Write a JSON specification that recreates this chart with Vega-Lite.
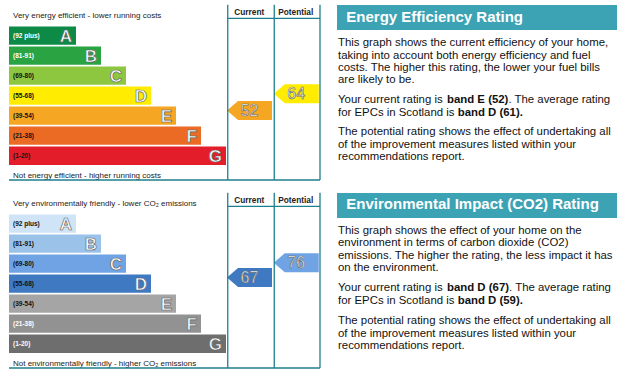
{
  "$schema": "https://vega.github.io/schema/vega-lite/v6.json",
  "padding": {"left": 8, "top": 4, "right": 0, "bottom": 0},
  "background": "white",
  "spacing": 11,
  "config": {"view": {"stroke": null}, "font": "Liberation Sans", "text": {"font": "Liberation Sans"}},
  "resolve": {"scale": {"x": "independent", "y": "independent", "color": "independent", "fill": "independent"}},
  "datasets": {
    "bands": [
      {"chart": "energy", "band": "A", "range": "(92 plus)", "min": 92, "max": 100, "rank": 1},
      {"chart": "energy", "band": "B", "range": "(81-91)", "min": 81, "max": 91, "rank": 2},
      {"chart": "energy", "band": "C", "range": "(69-80)", "min": 69, "max": 80, "rank": 3},
      {"chart": "energy", "band": "D", "range": "(55-68)", "min": 55, "max": 68, "rank": 4},
      {"chart": "energy", "band": "E", "range": "(39-54)", "min": 39, "max": 54, "rank": 5},
      {"chart": "energy", "band": "F", "range": "(21-38)", "min": 21, "max": 38, "rank": 6},
      {"chart": "energy", "band": "G", "range": "(1-20)", "min": 1, "max": 20, "rank": 7},
      {"chart": "env", "band": "A", "range": "(92 plus)", "min": 92, "max": 100, "rank": 1},
      {"chart": "env", "band": "B", "range": "(81-91)", "min": 81, "max": 91, "rank": 2},
      {"chart": "env", "band": "C", "range": "(69-80)", "min": 69, "max": 80, "rank": 3},
      {"chart": "env", "band": "D", "range": "(55-68)", "min": 55, "max": 68, "rank": 4},
      {"chart": "env", "band": "E", "range": "(39-54)", "min": 39, "max": 54, "rank": 5},
      {"chart": "env", "band": "F", "range": "(21-38)", "min": 21, "max": 38, "rank": 6},
      {"chart": "env", "band": "G", "range": "(1-20)", "min": 1, "max": 20, "rank": 7}
    ],
    "ratings": [
      {"chart": "energy", "kind": "Current", "value": 52, "band": "E"},
      {"chart": "energy", "kind": "Potential", "value": 64, "band": "D"},
      {"chart": "env", "kind": "Current", "value": 67, "band": "D"},
      {"chart": "env", "kind": "Potential", "value": 76, "band": "C"}
    ],
    "captions": [
      {"chart": "energy", "part": "top", "text": "Very energy efficient - lower running costs"},
      {"chart": "energy", "part": "bottom", "text": "Not energy efficient - higher running costs"},
      {"chart": "energy", "part": "Current", "text": "Current"},
      {"chart": "energy", "part": "Potential", "text": "Potential"},
      {"chart": "env", "part": "top", "text": "Very environmentally friendly - lower CO₂ emissions"},
      {"chart": "env", "part": "bottom", "text": "Not environmentally friendly - higher CO₂ emissions"},
      {"chart": "env", "part": "Current", "text": "Current"},
      {"chart": "env", "part": "Potential", "text": "Potential"}
    ],
    "texts": [
      {"panel": "energy", "part": "title", "text": "Energy Efficiency Rating"},
      {"panel": "energy", "part": "p1", "text": "This graph shows the current efficiency of your home,\ntaking into account both energy efficiency and fuel\ncosts. The higher this rating, the lower your fuel bills\nare likely to be."},
      {"panel": "energy", "part": "p2a", "text": "Your current rating is"},
      {"panel": "energy", "part": "p2b", "text": "band E (52)"},
      {"panel": "energy", "part": "p2c", "text": ". The average rating"},
      {"panel": "energy", "part": "p2d", "text": "for EPCs in Scotland is"},
      {"panel": "energy", "part": "p2e", "text": "band D (61)."},
      {"panel": "energy", "part": "p3", "text": "The potential rating shows the effect of undertaking all\nof the improvement measures listed within your\nrecommendations report."},
      {"panel": "env", "part": "title", "text": "Environmental Impact (CO2) Rating"},
      {"panel": "env", "part": "p1", "text": "This graph shows the effect of your home on the\nenvironment in terms of carbon dioxide (CO2)\nemissions. The higher the rating, the less impact it has\non the environment."},
      {"panel": "env", "part": "p2a", "text": "Your current rating is"},
      {"panel": "env", "part": "p2b", "text": "band D (67)"},
      {"panel": "env", "part": "p2c", "text": ". The average rating"},
      {"panel": "env", "part": "p2d", "text": "for EPCs in Scotland is"},
      {"panel": "env", "part": "p2e", "text": "band D (59)."},
      {"panel": "env", "part": "p3", "text": "The potential rating shows the effect of undertaking all\nof the improvement measures listed within your\nrecommendations report."}
    ]
  },
  "vconcat": [
    {
      "spacing": 16,
      "resolve": {"scale": {"x": "independent", "y": "independent", "color": "independent", "fill": "independent"}},
      "hconcat": [
        {
          "width": 312, "height": 176,
          "layer": [
            {
              "data": {"name": "bands"},
              "transform": [{"filter": "datum.chart === 'energy'"}],
              "mark": {"type": "rect"},
              "encoding": {
                "x": {"field": "rank", "type": "quantitative", "scale": {"domain": [-1.68, 10.8], "nice": false, "zero": false}, "axis": null},
                "x2": {"datum": -1.68},
                "y": {"field": "max", "type": "quantitative", "scale": {"domain": [-10, 1, 20, 21, 38, 39, 54, 55, 68, 69, 80, 81, 91, 92, 100, 110], "range": [176, 161, 142.6, 140.8, 122.6, 120.8, 102.6, 100.8, 82.6, 80.8, 62.6, 60.8, 42.6, 40.8, 22.6, 0], "nice": false, "zero": false}, "axis": null},
                "y2": {"field": "min"},
                "color": {"field": "band", "type": "nominal", "scale": {"domain": ["A", "B", "C", "D", "E", "F", "G"], "range": ["#0d8a46", "#2aa343", "#8dc63f", "#ffec00", "#f5a623", "#ec6b24", "#e31e2a"]}, "legend": null}
              }
            },
            {
              "data": {"name": "bands"},
              "transform": [{"filter": "datum.chart === 'energy'"}],
              "mark": {"type": "text", "align": "left", "baseline": "middle", "fontSize": 6.5, "fontWeight": "bold", "dy": 9},
              "encoding": {
                "x": {"datum": -1.52},
                "y": {"field": "max", "type": "quantitative"},
                "text": {"field": "range", "type": "nominal"},
                "fill": {"field": "band", "type": "nominal", "scale": {"domain": ["A", "B", "C", "D", "E", "F", "G"], "range": ["#ffffff", "#ffffff", "#111111", "#111111", "#111111", "#111111", "#111111"]}, "legend": null}
              }
            },
            {
              "data": {"name": "bands"},
              "transform": [{"filter": "datum.chart === 'energy'"}],
              "mark": {"type": "text", "align": "right", "baseline": "middle", "fontSize": 17, "fontWeight": "bold", "dx": -4, "dy": 10, "fill": "white", "stroke": "#666666", "strokeWidth": 0.7},
              "encoding": {
                "x": {"field": "rank", "type": "quantitative"},
                "y": {"field": "max", "type": "quantitative"},
                "text": {"field": "band", "type": "nominal"}
              }
            },
            {
              "data": {"name": "ratings"},
              "transform": [{"filter": "datum.chart === 'energy' && datum.kind === 'Current'"}],
              "encoding": {"x": {"datum": 7.94}, "y": {"field": "value", "type": "quantitative"}},
              "layer": [
                {"mark": {"type": "point", "shape": "M -1 0 L -0.51 -0.422 L 1 -0.422 L 1 0.422 L -0.51 0.422 Z", "size": 2025, "filled": true, "opacity": 1, "strokeWidth": 0, "yOffset": 1.5}, "encoding": {"color": {"field": "band", "type": "nominal"}}},
                {"mark": {"type": "text", "fontSize": 16, "fill": "white", "stroke": "#666666", "strokeWidth": 0.6, "align": "center", "baseline": "middle", "yOffset": 1.5}, "encoding": {"text": {"field": "value", "type": "quantitative"}}}
              ]
            },
            {
              "data": {"name": "ratings"},
              "transform": [{"filter": "datum.chart === 'energy' && datum.kind === 'Potential'"}],
              "encoding": {"x": {"datum": 9.81}, "y": {"field": "value", "type": "quantitative"}},
              "layer": [
                {"mark": {"type": "point", "shape": "M -1 0 L -0.51 -0.422 L 1 -0.422 L 1 0.422 L -0.51 0.422 Z", "size": 2025, "filled": true, "opacity": 1, "strokeWidth": 0, "yOffset": 1.5}, "encoding": {"color": {"field": "band", "type": "nominal"}}},
                {"mark": {"type": "text", "fontSize": 16, "fill": "white", "stroke": "#666666", "strokeWidth": 0.6, "align": "center", "baseline": "middle", "yOffset": 1.5}, "encoding": {"text": {"field": "value", "type": "quantitative"}}}
              ]
            },
            {
              "data": {"name": "captions"},
              "transform": [{"filter": "datum.chart === 'energy' && datum.part === 'top'"}],
              "mark": {"type": "text", "align": "left", "baseline": "middle", "fontSize": 8, "fill": "#222222"},
              "encoding": {"x": {"datum": -1.52}, "y": {"datum": 104.6}, "text": {"field": "text", "type": "nominal"}}
            },
            {
              "data": {"name": "captions"},
              "transform": [{"filter": "datum.chart === 'energy' && datum.part === 'bottom'"}],
              "mark": {"type": "text", "align": "left", "baseline": "middle", "fontSize": 8, "fill": "#222222"},
              "encoding": {"x": {"datum": -1.52}, "y": {"datum": -7}, "text": {"field": "text", "type": "nominal"}}
            },
            {
              "data": {"name": "captions"},
              "transform": [{"filter": "datum.chart === 'energy' && datum.part === 'Current'"}],
              "mark": {"type": "text", "align": "center", "baseline": "middle", "fontSize": 8.3, "fontWeight": "bold", "fill": "#222222"},
              "encoding": {"x": {"datum": 7.93}, "y": {"datum": 106.2}, "text": {"field": "text", "type": "nominal"}}
            },
            {
              "data": {"name": "captions"},
              "transform": [{"filter": "datum.chart === 'energy' && datum.part === 'Potential'"}],
              "mark": {"type": "text", "align": "center", "baseline": "middle", "fontSize": 8.3, "fontWeight": "bold", "fill": "#222222"},
              "encoding": {"x": {"datum": 9.79}, "y": {"datum": 106.2}, "text": {"field": "text", "type": "nominal"}}
            },
            {
              "data": {"values": [{}]},
              "layer": [
                {"mark": {"type": "rule", "color": "#1e7f8e", "strokeWidth": 1.3}, "encoding": {"x": {"datum": 7.07}, "y": {"datum": 109.7}, "y2": {"datum": -10}}},
                {"mark": {"type": "rule", "color": "#1e7f8e", "strokeWidth": 1.3}, "encoding": {"x": {"datum": 8.93}, "y": {"datum": 109.7}, "y2": {"datum": -10}}},
                {"mark": {"type": "rule", "color": "#1e7f8e", "strokeWidth": 1.3}, "encoding": {"x": {"datum": 10.76}, "y": {"datum": 109.7}, "y2": {"datum": -10}}},
                {"mark": {"type": "rule", "color": "#1e7f8e", "strokeWidth": 1.3}, "encoding": {"x": {"datum": 7.07}, "x2": {"datum": 10.76}, "y": {"datum": 103.6}}},
                {"mark": {"type": "rule", "color": "#1e7f8e", "strokeWidth": 1.3}, "encoding": {"x": {"datum": -1.68}, "x2": {"datum": 10.76}, "y": {"datum": -10}}}
              ]
            }
          ]
        },
        {
          "width": 280, "height": 176,
          "data": {"name": "texts"},
          "transform": [{"filter": "datum.panel === 'energy'"}],
          "layer": [
            {"transform": [{"filter": "datum.part === 'title'"}], "mark": {"type": "rect", "color": "#3ca3b5"},
             "encoding": {"x": {"datum": 0, "type": "quantitative", "scale": {"domain": [0, 280], "nice": false, "zero": false}, "axis": null}, "x2": {"datum": 280}, "y": {"datum": 1, "type": "quantitative", "scale": {"domain": [0, 176], "reverse": true, "nice": false, "zero": false}, "axis": null}, "y2": {"datum": 26}}},
            {"transform": [{"filter": "datum.part === 'title'"}], "mark": {"type": "text", "align": "left", "baseline": "middle", "fontSize": 15, "fontWeight": "bold", "fill": "white"},
             "encoding": {"x": {"datum": 9.3}, "y": {"datum": 12.8}, "text": {"field": "text", "type": "nominal"}}},
            {"transform": [{"filter": "datum.part === 'p1'"}], "mark": {"type": "text", "align": "left", "baseline": "top", "fontSize": 11.4, "lineHeight": 12.4, "lineBreak": "\n", "fill": "#111111"},
             "encoding": {"x": {"datum": 1}, "y": {"datum": 33.3}, "text": {"field": "text", "type": "nominal"}}},
            {"transform": [{"filter": "datum.part === 'p2a'"}], "mark": {"type": "text", "align": "left", "baseline": "middle", "fontSize": 11.4, "fill": "#111111"},
             "encoding": {"x": {"datum": 1}, "y": {"datum": 95.6}, "text": {"field": "text", "type": "nominal"}}},
            {"transform": [{"filter": "datum.part === 'p2b'"}], "mark": {"type": "text", "align": "left", "baseline": "middle", "fontSize": 11.4, "fontWeight": "bold", "fill": "#111111"},
             "encoding": {"x": {"datum": 110}, "y": {"datum": 95.6}, "text": {"field": "text", "type": "nominal"}}},
            {"transform": [{"filter": "datum.part === 'p2c'"}], "mark": {"type": "text", "align": "left", "baseline": "middle", "fontSize": 11.4, "fill": "#111111"},
             "encoding": {"x": {"datum": 171.4}, "y": {"datum": 95.6}, "text": {"field": "text", "type": "nominal"}}},
            {"transform": [{"filter": "datum.part === 'p2d'"}], "mark": {"type": "text", "align": "left", "baseline": "middle", "fontSize": 11.4, "fill": "#111111"},
             "encoding": {"x": {"datum": 1}, "y": {"datum": 108.6}, "text": {"field": "text", "type": "nominal"}}},
            {"transform": [{"filter": "datum.part === 'p2e'"}], "mark": {"type": "text", "align": "left", "baseline": "middle", "fontSize": 11.4, "fontWeight": "bold", "fill": "#111111"},
             "encoding": {"x": {"datum": 120.7}, "y": {"datum": 108.6}, "text": {"field": "text", "type": "nominal"}}},
            {"transform": [{"filter": "datum.part === 'p3'"}], "mark": {"type": "text", "align": "left", "baseline": "top", "fontSize": 11.4, "lineHeight": 12.4, "lineBreak": "\n", "fill": "#111111"},
             "encoding": {"x": {"datum": 1}, "y": {"datum": 122.4}, "text": {"field": "text", "type": "nominal"}}}
          ]
        }
      ]
    },
    {
      "spacing": 16,
      "resolve": {"scale": {"x": "independent", "y": "independent", "color": "independent", "fill": "independent"}},
      "hconcat": [
        {
          "width": 312, "height": 176,
          "layer": [
            {
              "data": {"name": "bands"},
              "transform": [{"filter": "datum.chart === 'env'"}],
              "mark": {"type": "rect"},
              "encoding": {
                "x": {"field": "rank", "type": "quantitative", "scale": {"domain": [-1.68, 10.8], "nice": false, "zero": false}, "axis": null},
                "x2": {"datum": -1.68},
                "y": {"field": "max", "type": "quantitative", "scale": {"domain": [-10, 1, 20, 21, 38, 39, 54, 55, 68, 69, 80, 81, 91, 92, 100, 110], "range": [176, 161, 142.6, 140.8, 122.6, 120.8, 102.6, 100.8, 82.6, 80.8, 62.6, 60.8, 42.6, 40.8, 22.6, 0], "nice": false, "zero": false}, "axis": null},
                "y2": {"field": "min"},
                "color": {"field": "band", "type": "nominal", "scale": {"domain": ["A", "B", "C", "D", "E", "F", "G"], "range": ["#cfe4f6", "#9bc3ea", "#6fa3e4", "#3e79c1", "#a5a5a5", "#929292", "#6e6e6e"]}, "legend": null}
              }
            },
            {
              "data": {"name": "bands"},
              "transform": [{"filter": "datum.chart === 'env'"}],
              "mark": {"type": "text", "align": "left", "baseline": "middle", "fontSize": 6.5, "fontWeight": "bold", "dy": 9},
              "encoding": {
                "x": {"datum": -1.52},
                "y": {"field": "max", "type": "quantitative"},
                "text": {"field": "range", "type": "nominal"},
                "fill": {"field": "band", "type": "nominal", "scale": {"domain": ["A", "B", "C", "D", "E", "F", "G"], "range": ["#111111", "#111111", "#111111", "#111111", "#111111", "#ffffff", "#ffffff"]}, "legend": null}
              }
            },
            {
              "data": {"name": "bands"},
              "transform": [{"filter": "datum.chart === 'env'"}],
              "mark": {"type": "text", "align": "right", "baseline": "middle", "fontSize": 17, "fontWeight": "bold", "dx": -4, "dy": 10, "fill": "white", "stroke": "#666666", "strokeWidth": 0.7},
              "encoding": {
                "x": {"field": "rank", "type": "quantitative"},
                "y": {"field": "max", "type": "quantitative"},
                "text": {"field": "band", "type": "nominal"}
              }
            },
            {
              "data": {"name": "ratings"},
              "transform": [{"filter": "datum.chart === 'env' && datum.kind === 'Current'"}],
              "encoding": {"x": {"datum": 7.94}, "y": {"field": "value", "type": "quantitative"}},
              "layer": [
                {"mark": {"type": "point", "shape": "M -1 0 L -0.51 -0.422 L 1 -0.422 L 1 0.422 L -0.51 0.422 Z", "size": 2025, "filled": true, "opacity": 1, "strokeWidth": 0, "yOffset": 1.5}, "encoding": {"color": {"field": "band", "type": "nominal"}}},
                {"mark": {"type": "text", "fontSize": 16, "fill": "white", "stroke": "#666666", "strokeWidth": 0.6, "align": "center", "baseline": "middle", "yOffset": 1.5}, "encoding": {"text": {"field": "value", "type": "quantitative"}}}
              ]
            },
            {
              "data": {"name": "ratings"},
              "transform": [{"filter": "datum.chart === 'env' && datum.kind === 'Potential'"}],
              "encoding": {"x": {"datum": 9.81}, "y": {"field": "value", "type": "quantitative"}},
              "layer": [
                {"mark": {"type": "point", "shape": "M -1 0 L -0.51 -0.422 L 1 -0.422 L 1 0.422 L -0.51 0.422 Z", "size": 2025, "filled": true, "opacity": 1, "strokeWidth": 0, "yOffset": 1.5}, "encoding": {"color": {"field": "band", "type": "nominal"}}},
                {"mark": {"type": "text", "fontSize": 16, "fill": "white", "stroke": "#666666", "strokeWidth": 0.6, "align": "center", "baseline": "middle", "yOffset": 1.5}, "encoding": {"text": {"field": "value", "type": "quantitative"}}}
              ]
            },
            {
              "data": {"name": "captions"},
              "transform": [{"filter": "datum.chart === 'env' && datum.part === 'top'"}],
              "mark": {"type": "text", "align": "left", "baseline": "middle", "fontSize": 8, "fill": "#222222"},
              "encoding": {"x": {"datum": -1.52}, "y": {"datum": 104.6}, "text": {"field": "text", "type": "nominal"}}
            },
            {
              "data": {"name": "captions"},
              "transform": [{"filter": "datum.chart === 'env' && datum.part === 'bottom'"}],
              "mark": {"type": "text", "align": "left", "baseline": "middle", "fontSize": 8, "fill": "#222222"},
              "encoding": {"x": {"datum": -1.52}, "y": {"datum": -7}, "text": {"field": "text", "type": "nominal"}}
            },
            {
              "data": {"name": "captions"},
              "transform": [{"filter": "datum.chart === 'env' && datum.part === 'Current'"}],
              "mark": {"type": "text", "align": "center", "baseline": "middle", "fontSize": 8.3, "fontWeight": "bold", "fill": "#222222"},
              "encoding": {"x": {"datum": 7.93}, "y": {"datum": 106.2}, "text": {"field": "text", "type": "nominal"}}
            },
            {
              "data": {"name": "captions"},
              "transform": [{"filter": "datum.chart === 'env' && datum.part === 'Potential'"}],
              "mark": {"type": "text", "align": "center", "baseline": "middle", "fontSize": 8.3, "fontWeight": "bold", "fill": "#222222"},
              "encoding": {"x": {"datum": 9.79}, "y": {"datum": 106.2}, "text": {"field": "text", "type": "nominal"}}
            },
            {
              "data": {"values": [{}]},
              "layer": [
                {"mark": {"type": "rule", "color": "#1e7f8e", "strokeWidth": 1.3}, "encoding": {"x": {"datum": 7.07}, "y": {"datum": 109.7}, "y2": {"datum": -10}}},
                {"mark": {"type": "rule", "color": "#1e7f8e", "strokeWidth": 1.3}, "encoding": {"x": {"datum": 8.93}, "y": {"datum": 109.7}, "y2": {"datum": -10}}},
                {"mark": {"type": "rule", "color": "#1e7f8e", "strokeWidth": 1.3}, "encoding": {"x": {"datum": 10.76}, "y": {"datum": 109.7}, "y2": {"datum": -10}}},
                {"mark": {"type": "rule", "color": "#1e7f8e", "strokeWidth": 1.3}, "encoding": {"x": {"datum": 7.07}, "x2": {"datum": 10.76}, "y": {"datum": 103.6}}},
                {"mark": {"type": "rule", "color": "#1e7f8e", "strokeWidth": 1.3}, "encoding": {"x": {"datum": -1.68}, "x2": {"datum": 10.76}, "y": {"datum": -10}}}
              ]
            }
          ]
        },
        {
          "width": 280, "height": 176,
          "data": {"name": "texts"},
          "transform": [{"filter": "datum.panel === 'env'"}],
          "layer": [
            {"transform": [{"filter": "datum.part === 'title'"}], "mark": {"type": "rect", "color": "#3ca3b5"},
             "encoding": {"x": {"datum": 0, "type": "quantitative", "scale": {"domain": [0, 280], "nice": false, "zero": false}, "axis": null}, "x2": {"datum": 280}, "y": {"datum": 1, "type": "quantitative", "scale": {"domain": [0, 176], "reverse": true, "nice": false, "zero": false}, "axis": null}, "y2": {"datum": 26}}},
            {"transform": [{"filter": "datum.part === 'title'"}], "mark": {"type": "text", "align": "left", "baseline": "middle", "fontSize": 15, "fontWeight": "bold", "fill": "white"},
             "encoding": {"x": {"datum": 9.3}, "y": {"datum": 12.3}, "text": {"field": "text", "type": "nominal"}}},
            {"transform": [{"filter": "datum.part === 'p1'"}], "mark": {"type": "text", "align": "left", "baseline": "top", "fontSize": 11.4, "lineHeight": 12.4, "lineBreak": "\n", "fill": "#111111"},
             "encoding": {"x": {"datum": 1}, "y": {"datum": 32.8}, "text": {"field": "text", "type": "nominal"}}},
            {"transform": [{"filter": "datum.part === 'p2a'"}], "mark": {"type": "text", "align": "left", "baseline": "middle", "fontSize": 11.4, "fill": "#111111"},
             "encoding": {"x": {"datum": 1}, "y": {"datum": 95.6}, "text": {"field": "text", "type": "nominal"}}},
            {"transform": [{"filter": "datum.part === 'p2b'"}], "mark": {"type": "text", "align": "left", "baseline": "middle", "fontSize": 11.4, "fontWeight": "bold", "fill": "#111111"},
             "encoding": {"x": {"datum": 110}, "y": {"datum": 95.6}, "text": {"field": "text", "type": "nominal"}}},
            {"transform": [{"filter": "datum.part === 'p2c'"}], "mark": {"type": "text", "align": "left", "baseline": "middle", "fontSize": 11.4, "fill": "#111111"},
             "encoding": {"x": {"datum": 172.1}, "y": {"datum": 95.6}, "text": {"field": "text", "type": "nominal"}}},
            {"transform": [{"filter": "datum.part === 'p2d'"}], "mark": {"type": "text", "align": "left", "baseline": "middle", "fontSize": 11.4, "fill": "#111111"},
             "encoding": {"x": {"datum": 1}, "y": {"datum": 108.8}, "text": {"field": "text", "type": "nominal"}}},
            {"transform": [{"filter": "datum.part === 'p2e'"}], "mark": {"type": "text", "align": "left", "baseline": "middle", "fontSize": 11.4, "fontWeight": "bold", "fill": "#111111"},
             "encoding": {"x": {"datum": 120.7}, "y": {"datum": 108.8}, "text": {"field": "text", "type": "nominal"}}},
            {"transform": [{"filter": "datum.part === 'p3'"}], "mark": {"type": "text", "align": "left", "baseline": "top", "fontSize": 11.4, "lineHeight": 12.4, "lineBreak": "\n", "fill": "#111111"},
             "encoding": {"x": {"datum": 1}, "y": {"datum": 123.2}, "text": {"field": "text", "type": "nominal"}}}
          ]
        }
      ]
    }
  ]
}
